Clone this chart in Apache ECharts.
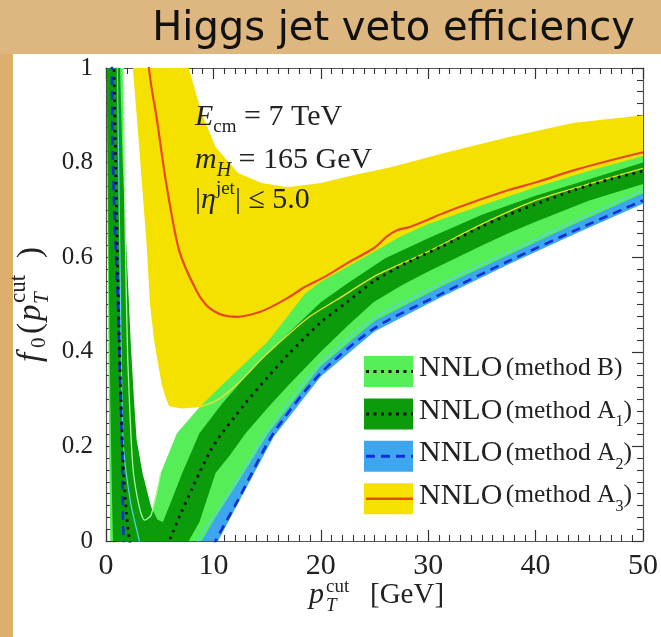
<!DOCTYPE html>
<html>
<head>
<meta charset="utf-8">
<script src="https://cdn.jsdelivr.net/npm/echarts@6/dist/echarts.min.js"></script>
<style>
html,body{margin:0;padding:0;background:#ddb77f;}
#chart{width:661px;height:637px;}
</style>
</head>
<body>
<div id="chart"></div>
<script>
// ---------- data (x = pT cut [GeV], y = f0) ----------
const xTicks = [0, 10, 20, 30, 40, 50];
const yTicks = [0, 0.2, 0.4, 0.6, 0.8, 1];

// central value, methods B and A1 (dotted)
const centralB = [[0.6,1.25],[0.75,1.0],[0.9,0.8],[1.1,0.56],[1.3,0.37],[1.6,0.16],[1.9,0.06],[2.2,0.0],[3,-0.1],[4,-0.1],[5,-0.05],[5.9,0],[6.2,0.017],[7,0.06],[8,0.11],[8.7,0.144],[9.7,0.19],[10.8,0.228],[12,0.263],[13,0.292],[15,0.345],[17,0.395],[20,0.462],[22.5,0.506],[25,0.55],[28,0.588],[31.4,0.624],[35,0.665],[37.5,0.69],[40,0.712],[43.6,0.742],[47,0.765],[50,0.782]];
// central value, method A2 (dashed)
const centralA2 = [[0.45,1.3],[0.55,1.0],[0.6,0.85],[0.8,0.68],[1.1,0.51],[1.3,0.35],[1.5,0.19],[1.65,0.0],[2.5,-0.3],[5,-0.4],[8,-0.15],[9,-0.06],[10.2,0],[12.3,0.087],[15.6,0.228],[20,0.355],[25,0.45],[31,0.52],[37.5,0.592],[44,0.66],[50,0.72]];
// central value, method A3 (solid red)
const centralA3 = [[3.8,1.1],[4.0,1.0],[4.3,0.95],[4.7,0.897],[5.6,0.757],[6.8,0.615],[8.4,0.53],[9.5,0.495],[10.8,0.478],[12.3,0.474],[14,0.482],[15.4,0.495],[17,0.515],[18.5,0.537],[20.5,0.56],[22.5,0.588],[25,0.62],[26.1,0.643],[27.1,0.657],[28.3,0.664],[31.4,0.693],[34,0.715],[37.5,0.742],[40,0.758],[43.6,0.784],[47,0.805],[50,0.822]];

// uncertainty bands
const bandA3Upper = [[1.5,2],[7.5,1.05],[7.7,1.0],[8.9,0.905],[10.2,0.833],[12.3,0.778],[14.5,0.757],[16.9,0.748],[20,0.757],[23.1,0.774],[26.5,0.79],[31.4,0.82],[37.5,0.854],[43.6,0.884],[50,0.90]];
const bandA3Lower = [[1.5,2],[2.3,1.1],[2.5,1.0],[3.1,0.83],[3.8,0.62],[4.1,0.5],[4.5,0.42],[5.2,0.33],[5.6,0.30],[5.9,0.285],[7,0.28],[8.7,0.283],[10.5,0.30],[12.6,0.34],[14.5,0.385],[16.9,0.435],[19,0.475],[21.5,0.51],[25.2,0.562],[30,0.612],[35,0.67],[40,0.72],[45,0.755],[50,0.788]];

const bandBUpper = [[0,3],[1.5,1.1],[1.6,1.0],[1.7,0.8],[1.8,0.64],[1.9,0.51],[2.05,0.37],[2.5,0.157],[3.1,0.072],[3.6,0.044],[4.2,0.055],[5.1,0.144],[6.6,0.228],[8.7,0.283],[10.8,0.33],[12.3,0.362],[15,0.42],[17,0.478],[18.5,0.522],[20,0.548],[22.5,0.58],[25,0.612],[27.5,0.645],[30,0.67],[35,0.71],[40,0.748],[45,0.783],[50,0.814]];
const bandBLower = [[0,1.5],[0.1,0.9],[0.2,0.5],[0.3,0.2],[0.4,0],[1,-0.3],[8,-0.05],[8.9,0],[10.2,0.05],[12.3,0.125],[15.1,0.228],[20,0.37],[25,0.465],[31.4,0.54],[37.5,0.605],[43.6,0.67],[50,0.735]];

const bandA1Upper = [[0,3],[1.2,1.15],[1.3,1.0],[1.55,0.8],[1.9,0.62],[2.3,0.42],[2.6,0.3],[2.85,0.214],[3.4,0.144],[4.2,0.072],[4.8,0.045],[5.3,0.04],[6,0.08],[7.1,0.144],[8.7,0.228],[10.8,0.29],[13,0.348],[15,0.395],[17,0.44],[20,0.505],[22.5,0.545],[26,0.598],[30,0.64],[35,0.69],[40,0.73],[45,0.765],[50,0.80]];
const bandA1Lower = [[0,1.2],[0.1,0.9],[0.25,0.6],[0.4,0.3],[0.55,0.1],[0.65,0],[1,-0.2],[6,-0.1],[7.7,0.0],[8.7,0.04],[10.2,0.144],[11.5,0.18],[13,0.228],[15,0.28],[17,0.33],[20,0.40],[22.5,0.455],[24.9,0.505],[27.5,0.54],[30,0.57],[35,0.625],[37.5,0.651],[40,0.675],[45,0.72],[50,0.755]];

const bandA2Upper = [[8,-0.02],[8.9,0.01],[10.2,0.06],[12.3,0.135],[15.1,0.238],[20,0.38],[25,0.475],[31.4,0.55],[37.5,0.615],[43.6,0.68],[50,0.745]];
const bandA2Lower = [[8,-0.2],[9,-0.07],[10.2,-0.01],[12.3,0.08],[15.6,0.22],[20,0.348],[25,0.443],[31,0.513],[37.5,0.585],[44,0.653],[50,0.713]];

// thin edge lines visible on top of the filled bands
const edgeA3Lower = bandA3Lower.filter(p => p[0] >= 8.5);
const edgeBUpperLeft = bandBUpper.filter(p => p[0] >= 1.6 && p[0] <= 5.1);
const edgeA2UpperLeft = [[1.0,1.1],[1.3,0.6],[1.6,0.21],[2.3,0.08],[3.1,0],[3.5,-0.05]];
const edgeA2UpperRight = [[8.2,-0.02],[8.9,0.015],[10.2,0.058],[12.3,0.132],[15.1,0.235],[20,0.376],[25,0.472],[31.4,0.547],[37.5,0.612],[43.6,0.677],[50,0.742]];

const legendItems = ['NNLO (method B)', 'NNLO (method A1)', 'NNLO (method A2)', 'NNLO (method A3)'];

// ---------- colours ----------
const C = {
  yellow: '#f5e100', lightGreen: '#56ee56', darkGreen: '#0b9b0b', blue: '#3ea6ee',
  red: '#e8481c', dashBlue: '#1030d8', black: '#111111'
};

function bandRender(upper, lower) {
  return function (params, api) {
    if (params.dataIndex !== 0) return;
    const pts = upper.map(p => api.coord(p)).concat(lower.slice().reverse().map(p => api.coord(p)));
    return { type: 'polygon', shape: { points: pts }, style: { fill: api.visual('color') } };
  };
}
function band(name, upper, lower, color, z) {
  return { type: 'custom', name, data: [[0, 0]], encode: { x: 0, y: 1 }, clip: true, z,
    itemStyle: { color }, renderItem: bandRender(upper, lower), silent: true };
}
function line(data, color, width, type, z) {
  return { type: 'line', data, showSymbol: false, symbol: 'none', smooth: 0.25, clip: true, z,
    lineStyle: { color, width, type }, silent: true };
}

const chart = echarts.init(document.getElementById('chart'), null, { renderer: 'canvas' });

const serif = 'Liberation Serif';
const ink = '#222';
const axisCommon = {
  axisLine: { show: true, onZero: false, lineStyle: { color: '#555', width: 1.2 } },
  axisTick: { show: true, inside: true, length: 11, lineStyle: { color: '#333', width: 1.2 } },
  minorTick: { show: true, length: 6, lineStyle: { color: '#333', width: 1.1 } },
  splitLine: { show: false }
};

const legendTop = 356, legendStep = 42.4, boxX = 364, boxW = 49, boxH = 31;
const legendGraphics = [];
const legendFills = [C.lightGreen, C.darkGreen, C.blue, C.yellow];
const legendLines = [
  { color: C.black, type: [3, 4.5], width: 3 },
  { color: C.black, type: [3, 4.5], width: 3 },
  { color: C.dashBlue, type: [9, 6], width: 3 },
  { color: C.red, type: 'solid', width: 2.5 }
];
const legendRich = [
  '{n|NNLO} {m|(method B)}',
  '{n|NNLO} {m|(method A}{s|1}{m|)}',
  '{n|NNLO} {m|(method A}{s|2}{m|)}',
  '{n|NNLO} {m|(method A}{s|3}{m|)}'
];
legendItems.forEach((name, i) => {
  const y = legendTop + i * legendStep;
  legendGraphics.push({ type: 'rect', shape: { x: boxX, y, width: boxW, height: boxH }, style: { fill: legendFills[i] }, z: 20 });
  legendGraphics.push({ type: 'line', shape: { x1: boxX + 2, y1: y + boxH / 2, x2: boxX + boxW, y2: y + boxH / 2 },
    style: { stroke: legendLines[i].color, lineWidth: legendLines[i].width, lineDash: legendLines[i].type === 'solid' ? null : legendLines[i].type }, z: 21 });
  legendGraphics.push({ type: 'text', x: 419, y: y + boxH / 2 - 3, z: 21,
    style: { text: legendRich[i], verticalAlign: 'middle', fill: ink,
      rich: {
        n: { fontFamily: serif, fontSize: 30, fill: ink },
        m: { fontFamily: serif, fontSize: 25.5, fill: ink },
        s: { fontFamily: serif, fontSize: 16, fill: ink, verticalAlign: 'bottom', lineHeight: 38 }
      } } });
});

function t(text, x, y, size, italic, extra) {
  return Object.assign({ type: 'text', x, y, z: 20, silent: true,
    style: { text, fontFamily: serif, fontStyle: italic ? 'italic' : 'normal', fontSize: size, fill: ink, verticalAlign: 'middle' } }, extra || {});
}

const option = {
  backgroundColor: '#ddb77f',
  animation: false,
  grid: { left: 106, right: 12, top: 68, bottom: 96, containLabel: false },
  xAxis: [
    Object.assign({}, axisCommon, {
      type: 'value', min: xTicks[0], max: xTicks[xTicks.length - 1], interval: 10, position: 'bottom',
      minorTick: Object.assign({}, axisCommon.minorTick, { splitNumber: 10 }),
      axisLabel: { show: true, margin: 10, fontFamily: serif, fontSize: 30, color: ink }
    }),
    Object.assign({}, axisCommon, {
      type: 'value', min: 0, max: 50, interval: 10, position: 'top',
      minorTick: Object.assign({}, axisCommon.minorTick, { splitNumber: 10 }),
      axisLabel: { show: false }
    })
  ],
  yAxis: [
    Object.assign({}, axisCommon, {
      type: 'value', min: yTicks[0], max: yTicks[yTicks.length - 1], interval: 0.2, position: 'left',
      minorTick: Object.assign({}, axisCommon.minorTick, { splitNumber: 8 }),
      axisLabel: { show: true, margin: 13, fontFamily: serif, fontSize: 25, color: ink }
    }),
    Object.assign({}, axisCommon, {
      type: 'value', min: 0, max: 1, interval: 0.2, position: 'right',
      minorTick: Object.assign({}, axisCommon.minorTick, { splitNumber: 8 }),
      axisLabel: { show: false }
    })
  ],
  graphic: [
    { type: 'rect', shape: { x: 13, y: 54, width: 661, height: 600 }, style: { fill: '#ffffff' }, z: -10, silent: true },
    { type: 'rect', shape: { x: 0, y: 54, width: 13, height: 600 }, style: { fill: '#deae6c' }, z: -10, silent: true },
    { type: 'text', right: 26, top: 10, z: 10,
      style: { text: 'Higgs jet veto efficiency', fontFamily: 'DejaVu Sans', fontSize: 40, fill: '#111' } },
    // inset annotations
    { type: 'text', x: 195, y: 97, z: 20,
      style: { text: '{it|E}{sub|cm}{rm| = 7 TeV}', rich: {
        it: { fontFamily: serif, fontStyle: 'italic', fontSize: 30, fill: ink },
        sub: { fontFamily: serif, fontSize: 19, fill: ink, verticalAlign: 'bottom', lineHeight: 40 },
        rm: { fontFamily: serif, fontSize: 30, fill: ink } } } },
    { type: 'text', x: 195, y: 139, z: 20,
      style: { text: '{it|m}{sub|H}{rm| = 165 GeV}', rich: {
        it: { fontFamily: serif, fontStyle: 'italic', fontSize: 30, fill: ink },
        sub: { fontFamily: serif, fontStyle: 'italic', fontSize: 20, fill: ink, verticalAlign: 'bottom', lineHeight: 42 },
        rm: { fontFamily: serif, fontSize: 30, fill: ink } } } },
    { type: 'text', x: 195, y: 180, z: 20,
      style: { text: '{rm||}{it|η}{sup|jet}{rm|| ≤ 5.0}', rich: {
        it: { fontFamily: serif, fontStyle: 'italic', fontSize: 30, fill: ink },
        sup: { fontFamily: serif, fontSize: 19, fill: ink, verticalAlign: 'top', lineHeight: 40 },
        rm: { fontFamily: serif, fontSize: 30, fill: ink } } } },
    // y axis title f0(pT^cut), reading upwards
    { type: 'group', x: 31, y: 296, rotation: Math.PI / 2, children: [
      t('f', -66, 0, 33, true),
      t('0', -52, 8, 21, false),
      t('(', -38, 0, 33, false),
      t('p', -25, 0, 33, true),
      t('cut', -7, -12, 23, false),
      t('T', -8, 11, 21, true),
      t(')', 38, 0, 33, false)
    ] },
    // x axis title pT^cut [GeV]
    t('p', 309, 595, 30, true),
    t('cut', 326, 587, 19, false),
    t('T', 326, 606, 19, true),
    t('[GeV]', 370, 595, 29, false)
  ].concat(legendGraphics),
  series: [
    band('A3 band', bandA3Upper, bandA3Lower, C.yellow, 1),
    band('A2 band', bandA2Upper, bandA2Lower, C.blue, 2),
    band('B band', bandBUpper, bandBLower, C.lightGreen, 3),
    band('A1 band', bandA1Upper, bandA1Lower, C.darkGreen, 4),
    line(edgeA3Lower, '#e6e23a', 1.3, 'solid', 5),
    line(edgeBUpperLeft, '#a8f7a0', 1.3, 'solid', 5),
    line(edgeA2UpperLeft, '#5cd2e6', 1.2, 'solid', 5),
    line(edgeA2UpperRight, '#5cd2e6', 1.2, 'solid', 5),
    line(centralA3, C.red, 2.2, 'solid', 6),
    line(centralA2, C.dashBlue, 2.6, [9, 6], 6),
    line(centralB, C.black, 2.8, [2.5, 5], 7)
  ]
};
chart.setOption(option);
</script>
</body>
</html>
